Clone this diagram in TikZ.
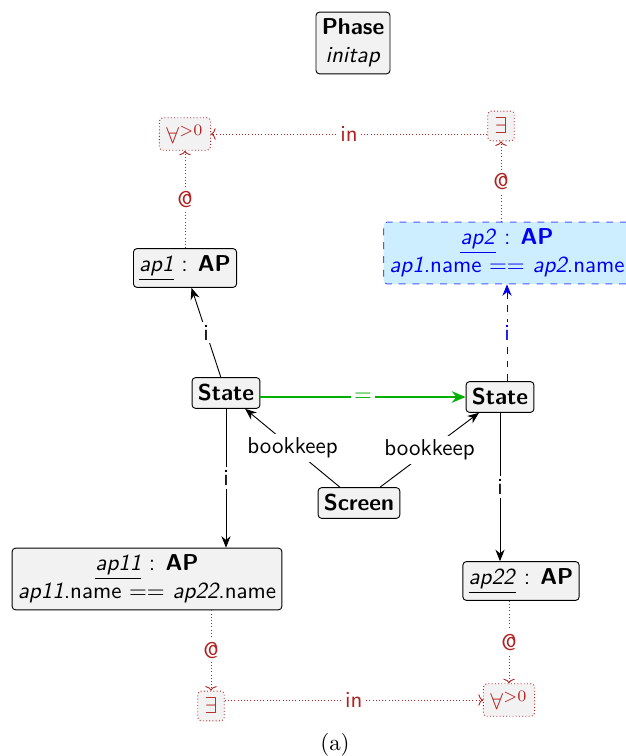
\documentclass[tikz,border=0pt]{standalone}
\usepackage{xcolor}
\usepackage{tikz}
\usetikzlibrary{arrows.meta}
\definecolor{QRed}{HTML}{B22222}
\definecolor{QGreen}{HTML}{00B000}
\definecolor{QBlue}{HTML}{0000F0}
\definecolor{QBlueLine}{HTML}{4A5CF5}
\definecolor{QCyan}{HTML}{CCEEFF}
\definecolor{QGray}{HTML}{F2F2F2}

\tikzset{
  obj/.style={draw=black,fill=QGray,rounded corners=1.5pt,align=center,
    inner xsep=2.5pt,inner ysep=3pt,font=\sffamily},
  newobj/.style={obj,draw=QBlueLine,dashed,fill=QCyan,text=QBlue},
  quant/.style={draw=QRed,densely dotted,fill=QGray,rounded corners=1.5pt,
    text=QRed,inner xsep=3pt,inner ysep=3pt},
  link/.style={draw=black,-{Stealth[length=5pt,width=4pt]}},
  newlink/.style={draw=QBlue,dashed,-{Stealth[length=5pt,width=4pt]}},
  eqlink/.style={draw=QGreen,line width=1.2pt,-{Stealth[length=6pt,width=5pt]}},
  quantlink/.style={draw=QRed,densely dotted,-{To[length=2pt,width=5pt]}},
  lbl/.style={fill=white,inner sep=1.5pt,font=\sffamily},
}

\begin{document}
\begin{tikzpicture}[x=0.0153cm,y=-0.0153cm]
\path[use as bounding box] (0,0) rectangle (625,756);
% objects
\node[obj] (phase) at (353,43) {\textbf{Phase}\\\textit{initap}};
\node[quant] (allT) at (185,134) {$\forall^{>0}$};
\node[quant] (exT) at (501,126) {$\exists$};
\node[obj] (ap1) at (185,268) {\underline{\textit{ap1}} : \textbf{AP}};
\node[newobj] (ap2) at (507,253) {\underline{\textit{ap2}} : \textbf{AP}\\\textit{ap1}.name $==$ \textit{ap2}.name};
\node[obj] (stL) at (226,393) {\textbf{State}};
\node[obj] (stR) at (500,397) {\textbf{State}};
\node[obj] (screen) at (359,503) {\textbf{Screen}};
\node[obj] (ap11) at (147,579) {\underline{\textit{ap11}} : \textbf{AP}\\\textit{ap11}.name $==$ \textit{ap22}.name};
\node[obj] (ap22) at (521,581) {\underline{\textit{ap22}} : \textbf{AP}};
\node[quant] (exB) at (211,706) {$\exists$};
\node[quant] (allB) at (509,700) {$\forall^{>0}$};
\node (cap) at (335,745) {(a)};
% quantifier links
\draw[quantlink] (exT.west |- allT) -- node[lbl,text=QRed] {in} (allT);
\draw[quantlink] (ap1) -- node[lbl,text=QRed] {@} (allT);
\draw[quantlink] (ap2.north -| exT) -- node[lbl,text=QRed] {@} (exT);
\draw[quantlink] (exB.north |- ap11.south) -- node[lbl,text=QRed] {@} (exB);
\draw[quantlink] (allB.north |- ap22.south) -- node[lbl,text=QRed] {@} (allB);
\draw[quantlink] (exB.east |- allB) -- node[lbl,text=QRed] {in} (allB);
% structure links
\draw[link] (stL) -- node[lbl] {i} (ap1);
\draw[newlink] (stR.north -| ap2) -- node[lbl,text=QBlue] {i} (ap2);
\draw[eqlink] (stL.east |- stR) -- node[lbl,text=QGreen] {$=$} (stR);
\draw[link] (screen) -- node[lbl] {bookkeep} (stL);
\draw[link] (screen) -- node[lbl] {bookkeep} (stR);
\draw[link] (stL) -- node[lbl] {i} (stL |- ap11.north);
\draw[link] (stR) -- node[lbl] {i} (stR |- ap22.north);
\end{tikzpicture}
\end{document}
